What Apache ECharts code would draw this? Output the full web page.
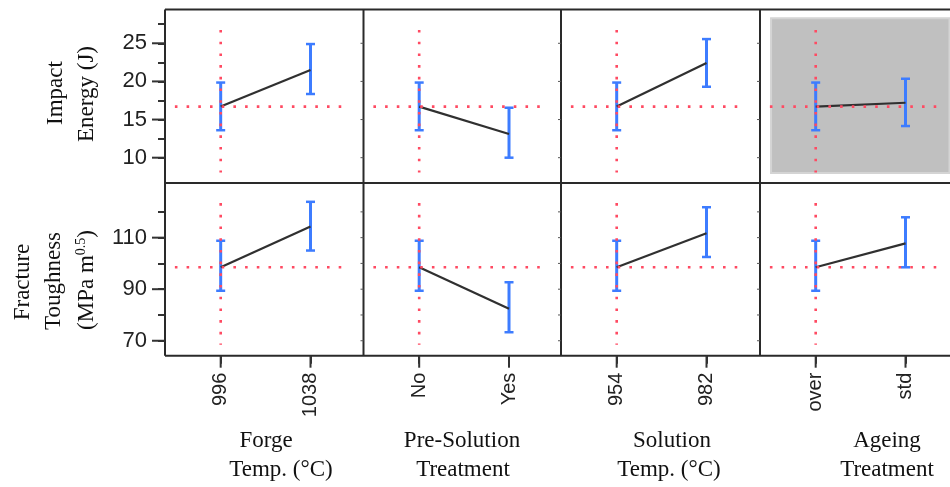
<!DOCTYPE html>
<html>
<head>
<meta charset="utf-8">
<script src="https://cdn.jsdelivr.net/npm/echarts@6/dist/echarts.min.js"></script>
<style>
html,body{margin:0;padding:0;background:#fff;}
#chart{width:950px;height:487px;}
</style>
</head>
<body>
<div id="chart"></div>
<script>
// ---- data ----
const factorLines = [['Forge', 'Temp. (°C)'], ['Pre-Solution', 'Treatment'], ['Solution', 'Temp. (°C)'], ['Ageing', 'Treatment']];
const levels = [['996', '1038'], ['No', 'Yes'], ['954', '982'], ['over', 'std']];

const impactMean = [[16.7, 21.5], [16.7, 13.1], [16.7, 22.4], [16.7, 17.2]];
const impactLow  = [[13.6, 18.35], [13.6, 10.0], [13.6, 19.3], [13.6, 14.15]];
const impactHigh = [[19.85, 24.9], [19.85, 16.55], [19.85, 25.55], [19.85, 20.35]];

const toughMean = [[98.5, 114.3], [98.5, 82.4], [98.5, 111.7], [98.5, 107.8]];
const toughLow  = [[89.4, 105.0], [89.4, 73.3], [89.4, 102.5], [89.4, 98.5]];
const toughHigh = [[108.8, 123.9], [108.8, 92.7], [108.8, 121.8], [108.8, 117.9]];

const impactRef = 16.7;
const toughRef = 98.5;
const impactVSpan = [8.06, 26.74];
const toughVSpan = [68.4, 123.4];
const hRefSpan = [-0.51, 1.40];

const impactMajor = [10, 15, 20, 25];
const impactMinor = [12.5, 17.5, 22.5, 27.5];
const toughMajor = [70, 90, 110];
const toughMinor = [80, 100, 120];
const impactAll = [10, 12.5, 15, 17.5, 20, 22.5, 25, 27.5];
const toughAll = [70, 80, 90, 100, 110, 120];

const impactRange = [6.68, 29.43];
const toughRange = [64.2, 131.2];
const xMin = -0.62;
const shadeBox = [[-0.497, 28.28], [1.49, 7.99]];

const impactTitle = ['Impact', 'Energy (J)'];
const toughTitle = ['Fracture', 'Toughness', '(MPa m{sup|0.5})'];

// ---- layout ----
const colLeft = [165, 363.5, 561, 760];
const colW = [198.5, 198.5, 198.5, 190];
const pxPerUnit = 198.5 / 2.21;
const rowTop = [9.5, 183];
const rowH = [173.5, 172.7];

const chart = echarts.init(document.getElementById('chart'));

const grid = [], xAxis = [], yAxis = [], series = [];
const axisCol = '#333';

function addGrid(r, c, xOpts, yOpts) {
  const gi = grid.length;
  grid.push({left: colLeft[c], top: rowTop[r], width: colW[c], height: rowH[r], show: false});
  const range = r === 0 ? impactRange : toughRange;
  xAxis.push(Object.assign({type: 'value', gridIndex: gi, position: 'bottom', min: xMin, max: xMin + colW[c] / pxPerUnit,
    splitLine: {show: false}, axisLine: {show: false, onZero: false},
    axisTick: {show: false}, axisLabel: {show: false}}, xOpts));
  yAxis.push(Object.assign({type: 'value', gridIndex: gi, position: 'left', min: range[0], max: range[1],
    splitLine: {show: false}, axisLine: {show: false, onZero: false},
    axisTick: {show: false}, axisLabel: {show: false}}, yOpts));
  return gi;
}

// tick overlays (axis ticks drawn by the axes themselves)
for (let r = 0; r < 2; r++) {
  addGrid(r, 0, {}, {axisTick: {show: true, customValues: r === 0 ? impactAll : toughAll, length: 7, lineStyle: {color: axisCol, width: 2}}});
}
for (let c = 0; c < 4; c++) {
  addGrid(1, c, {axisTick: {show: true, customValues: [0, 1], length: 8, lineStyle: {color: axisCol, width: 2}}}, {});
}

// longer major ticks placed through the axis scales
function tickSeries(gi, pts, dx, dy, stroke, lw) {
  return {type: 'custom', xAxisIndex: gi, yAxisIndex: gi, z: 12, clip: false, silent: true,
    data: pts,
    renderItem: (params, api) => {
      const p = api.coord([api.value(0), api.value(1)]);
      return {type: 'line', shape: {x1: p[0], y1: p[1], x2: p[0] + dx, y2: p[1] + dy},
        style: {stroke: stroke, lineWidth: lw}};
    }};
}

for (let r = 0; r < 2; r++) {
  for (let c = 0; c < 4; c++) {
    const major = r === 0 ? impactMajor : toughMajor;
    const range = r === 0 ? impactRange : toughRange;
    const xo = r === 1 ? {axisLabel: {show: true, customValues: [0, 1], rotate: 90, margin: 17,
      fontFamily: 'Liberation Sans', fontSize: 20, color: '#222', formatter: v => levels[c][Math.round(v)]}} : {};
    const yo = c === 0 ? {axisLabel: {show: true, customValues: major, margin: 18,
      fontFamily: 'Liberation Sans', fontSize: 22, color: '#222'}} : {};
    const gi = addGrid(r, c, xo, yo);

    if (c === 0) series.push(tickSeries(gi, major.map(v => [xMin, v]), -13, 0, axisCol, 2));
    else series.push(tickSeries(gi, (r === 0 ? major : toughAll).map(v => [xMin, v]), -3, 0, '#555', 1));
    if (r === 1) series.push(tickSeries(gi, [[0, range[0]], [1, range[0]]], 0, 12, axisCol, 2));

    const mean = r === 0 ? impactMean[c] : toughMean[c];
    const low = r === 0 ? impactLow[c] : toughLow[c];
    const high = r === 0 ? impactHigh[c] : toughHigh[c];
    const ref = r === 0 ? impactRef : toughRef;
    const vspan = r === 0 ? impactVSpan : toughVSpan;

    const ebSeries = {
      type: 'custom', xAxisIndex: gi, yAxisIndex: gi, z: 3, clip: false,
      data: [[0, low[0], high[0]], [1, low[1], high[1]]],
      renderItem: (params, api) => {
        const x = api.value(0);
        const p1 = api.coord([x, api.value(1)]);
        const p2 = api.coord([x, api.value(2)]);
        const hw = 4.5;
        const col = '#3d7cff';
        return {type: 'group', children: [
          {type: 'line', shape: {x1: p1[0], y1: p1[1], x2: p2[0], y2: p2[1]}, style: {stroke: col, lineWidth: 3}},
          {type: 'line', shape: {x1: p1[0] - hw, y1: p1[1], x2: p1[0] + hw, y2: p1[1]}, style: {stroke: col, lineWidth: 2.5}},
          {type: 'line', shape: {x1: p2[0] - hw, y1: p2[1], x2: p2[0] + hw, y2: p2[1]}, style: {stroke: col, lineWidth: 2.5}}
        ]};
      }
    };
    if (r === 0 && c === 3) {
      ebSeries.markArea = {silent: true, z: 0,
        itemStyle: {color: '#c0c0c0', borderColor: '#d4d4d4', borderWidth: 2},
        data: [[{coord: shadeBox[0]}, {coord: shadeBox[1]}]]};
    }
    series.push(ebSeries);
    series.push({type: 'line', xAxisIndex: gi, yAxisIndex: gi, z: 4, symbol: 'none',
      lineStyle: {color: '#303030', width: 2.2}, data: [[0, mean[0]], [1, mean[1]]]});
    const dot = {color: '#ff4a62', width: 2.6, type: [2.6, 9.1], cap: 'butt'};
    series.push({type: 'line', xAxisIndex: gi, yAxisIndex: gi, z: 5, symbol: 'none',
      lineStyle: dot, data: [[hRefSpan[0], ref], [hRefSpan[1], ref]]});
    series.push({type: 'line', xAxisIndex: gi, yAxisIndex: gi, z: 5, symbol: 'none',
      lineStyle: dot, data: [[0, vspan[1]], [0, vspan[0]]]});
  }
}

const serif = 'Liberation Serif';
const graphic = [];
const frameStyle = {stroke: '#2a2a2a', lineWidth: 2};
const yTop = rowTop[0], yMid = rowTop[1], yBot = rowTop[1] + rowH[1];
[yTop, yMid, yBot].forEach(y => graphic.push({type: 'line', z: 10, shape: {x1: colLeft[0], y1: y, x2: 952, y2: y}, style: frameStyle}));
colLeft.forEach(x => graphic.push({type: 'line', z: 10, shape: {x1: x, y1: yTop, x2: x, y2: yBot}, style: frameStyle}));

const xTitlePos = [[266, 281], [462, 463], [672, 669], [887, 887]];
factorLines.forEach((lines, c) => {
  lines.forEach((t, k) => {
    graphic.push({type: 'text', x: xTitlePos[c][k], y: 441 + k * 29,
      style: {text: t, fontFamily: serif, fontSize: 23, fill: '#111', textAlign: 'center', textVerticalAlign: 'middle'}});
  });
});
const impX = [56, 87], impY = [93, 94];
impactTitle.forEach((t, k) => {
  graphic.push({type: 'text', x: impX[k], y: impY[k], rotation: Math.PI / 2,
    style: {text: t, fontFamily: serif, fontSize: 23, fill: '#111', textAlign: 'center', textVerticalAlign: 'middle'}});
});
const tX = [22.5, 54, 87], tY = [282, 281, 280];
toughTitle.forEach((t, k) => {
  graphic.push({type: 'text', x: tX[k], y: tY[k], rotation: Math.PI / 2,
    style: {text: t, fontFamily: serif, fontSize: 23, fill: '#111', textAlign: 'center', textVerticalAlign: 'middle',
      rich: {sup: {fontFamily: serif, fontSize: 14, fill: '#111', verticalAlign: 'top', lineHeight: 26}}}});
});

chart.setOption({animation: false, backgroundColor: '#fff', grid, xAxis, yAxis, series, graphic});
</script>
</body>
</html>
